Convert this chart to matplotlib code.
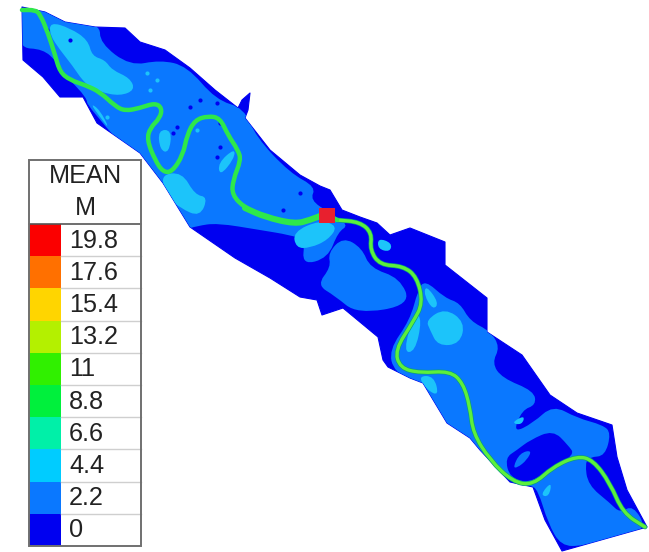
#!/usr/bin/env python3
"""Mean depth map of the river reach with its stepped colour legend."""

import matplotlib

matplotlib.use("Agg")
import matplotlib.pyplot as plt
from matplotlib.patches import PathPatch, Polygon, Rectangle
from matplotlib.path import Path

plt.rcParams["font.family"] = ["Liberation Sans", "DejaVu Sans"]

# legend classes, top to bottom
legend_labels = ["19.8", "17.6", "15.4", "13.2", "11", "8.8", "6.6", "4.4", "2.2", "0"]
legend_colors = ["#fb0000", "#ff7000", "#ffd500", "#b4f000", "#30f000",
                 "#00f03c", "#00f0a8", "#00ccff", "#0a78ff", "#0000f0"]

# map geometry, in image pixels
outline = [(22, 7), (45, 12), (65, 22), (95, 27), (125, 28), (140, 42), (165, 50),
           (190, 68), (215, 90), (238, 108), (242, 100), (250, 93), (248, 110),
           (245, 118), (270, 150), (300, 175), (320, 186), (330, 190), (342, 210),
           (360, 217), (377, 223), (390, 235), (410, 228), (445, 242), (445, 265),
           (487, 298), (487, 332), (522, 355), (550, 395), (577, 413), (612, 425),
           (617, 457), (627, 490), (647, 527), (562, 551), (545, 520), (533, 487),
           (510, 482), (480, 450), (470, 438), (447, 423), (423, 383), (410, 378),
           (388, 367), (383, 360), (378, 337), (343, 308), (322, 315), (317, 300),
           (300, 297), (270, 278), (235, 258), (190, 227), (163, 183), (140, 153),
           (97, 123), (83, 97), (60, 97), (43, 77), (23, 60)]

mid_upper = [(18, 8), (43, 9), (63, 19), (100, 24), (100, 43), (130, 66), (160, 60),
             (187, 66), (216, 100), (244, 108), (256, 137), (290, 173), (316, 187),
             (310, 200), (330, 213), (349, 225), (338, 232), (328, 258), (302, 265),
             (305, 240), (290, 235), (260, 230), (217, 223), (197, 226), (184, 230),
             (157, 184), (87, 106), (87, 98), (67, 77), (57, 62), (43, 49), (18, 48)]
mid_island = [(317, 285), (331, 267), (328, 253), (343, 237), (362, 248), (370, 268),
              (400, 278), (411, 305), (357, 314), (335, 296)]
mid_lower = [(418, 290), (425, 280), (445, 298), (460, 303), (470, 321), (490, 331),
             (500, 347), (492, 363), (502, 378), (534, 391), (536, 405), (522, 410),
             (513, 433), (533, 423), (553, 405), (577, 418), (603, 425), (611, 433),
             (605, 456), (590, 457), (585, 463), (588, 485), (610, 503), (620, 513),
             (633, 505), (647, 529), (620, 536), (583, 546), (561, 546), (548, 523),
             (538, 490), (530, 485), (510, 483), (478, 452), (468, 440), (444, 423),
             (424, 389), (394, 372), (389, 350), (410, 320)]
dark_blob = [(510, 478), (530, 483), (548, 470), (575, 455), (568, 445), (553, 430),
             (530, 440), (517, 450), (505, 458)]
mid_blob = [(513, 467), (520, 453), (532, 450), (527, 460), (517, 468)]

cyan_patches = [
    [(50, 22), (70, 28), (88, 40), (92, 56), (105, 60), (112, 70), (130, 78), (135, 90),
     (120, 96), (100, 92), (85, 84), (72, 65), (60, 50), (50, 35)],
    [(90, 103), (100, 110), (110, 130), (100, 117)],
    [(160, 175), (182, 172), (195, 195), (208, 197), (200, 217), (180, 208), (168, 197)],
    [(158, 130), (172, 130), (169, 153), (160, 150)],
    [(235, 148), (218, 163), (220, 176), (234, 159)],
    [(293, 232), (320, 220), (338, 226), (328, 240), (310, 248), (296, 248)],
    [(426, 285), (439, 303), (433, 310), (424, 295)],
    [(426, 320), (445, 308), (465, 322), (460, 344), (438, 346), (430, 330)],
    [(415, 311), (422, 320), (415, 352), (403, 352)],
    [(418, 376), (434, 376), (439, 396), (427, 390)],
    [(378, 238), (392, 243), (390, 252), (378, 249)],
    [(511, 423), (525, 415), (522, 425)],
    [(540, 495), (552, 481), (549, 497)],
]

dark_specks = [(190, 107), (200, 100), (217, 103), (177, 127), (173, 133), (220, 147),
               (217, 157), (283, 210), (300, 193), (220, 123), (70, 40), (47, 30)]
light_specks = [(197, 130), (157, 80), (147, 73), (107, 117), (150, 90)]

river_upper = [(22, 10), (35, 10), (40, 14), (48, 33), (55, 55), (60, 72), (70, 80),
               (85, 85), (100, 92), (115, 106), (125, 111), (140, 108), (155, 103),
               (162, 108), (160, 118), (150, 128), (147, 140), (155, 160), (163, 172),
               (172, 172), (183, 155), (187, 135), (195, 120), (208, 116), (220, 118),
               (228, 135), (238, 150), (241, 160), (233, 180), (232, 195), (245, 208),
               (265, 217), (295, 224), (310, 220), (325, 214), (337, 220)]
river_wide = [(245, 208), (265, 217), (295, 224), (310, 220), (325, 214)]
river_lower = [(337, 220), (360, 222), (372, 233), (370, 250), (380, 265), (403, 266),
               (417, 277), (423, 303), (413, 322), (395, 350), (400, 368), (420, 373),
               (450, 371), (463, 383), (470, 407), (473, 433), (490, 460), (513, 482),
               (533, 485), (553, 467), (577, 456), (593, 460), (610, 483), (623, 513),
               (645, 527)]

BLUE_DARK = "#0000f0"
BLUE_MID = "#0a78ff"
CYAN = "#1cc4fa"


def smooth_path(pts, closed=False):
    """Quadratic curve through the midpoints of the given vertices."""
    mids = [((a[0] + b[0]) / 2, (a[1] + b[1]) / 2) for a, b in zip(pts, pts[1:])]
    if closed:
        last = ((pts[-1][0] + pts[0][0]) / 2, (pts[-1][1] + pts[0][1]) / 2)
        verts = [last]
        codes = [Path.MOVETO]
        for ctrl, mid in zip(pts, mids + [last]):
            verts += [ctrl, mid]
            codes += [Path.CURVE3, Path.CURVE3]
    else:
        verts = [pts[0], mids[0]]
        codes = [Path.MOVETO, Path.LINETO]
        for ctrl, mid in zip(pts[1:-1], mids[1:]):
            verts += [ctrl, mid]
            codes += [Path.CURVE3, Path.CURVE3]
        verts.append(pts[-1])
        codes.append(Path.LINETO)
    return Path(verts, codes)


def add_area(ax, pts, color, clip=None):
    patch = PathPatch(smooth_path(pts, closed=True), fc=color, ec="none")
    ax.add_patch(patch)
    if clip is not None:
        patch.set_clip_path(clip)


def add_river(ax, pts, color, lw, zorder=3):
    ax.add_patch(PathPatch(smooth_path(pts), fc="none", ec=color, lw=lw,
                           capstyle="round", zorder=zorder))


fig = plt.figure(figsize=(6.49, 5.52), dpi=100)
ax = fig.add_axes([0, 0, 1, 1])
ax.set_xlim(0, 649)
ax.set_ylim(552, 0)
ax.axis("off")

land = Polygon(outline, closed=True, fc=BLUE_DARK, ec=BLUE_DARK, lw=0.8, joinstyle="round")
ax.add_patch(land)
for poly in [mid_upper, mid_island, mid_lower]:
    add_area(ax, poly, BLUE_MID, clip=land)
add_area(ax, dark_blob, BLUE_DARK)
add_area(ax, mid_blob, BLUE_MID)
for poly in cyan_patches:
    add_area(ax, poly, CYAN, clip=land)

ax.plot(*zip(*dark_specks), ls="", marker="o", ms=3, color=BLUE_DARK, mew=0)
ax.plot(*zip(*light_specks), ls="", marker="o", ms=3, color=CYAN, mew=0)

# river: thin darker edge under the green line downstream of the gauge
add_river(ax, river_lower, "#0a9a80", 3.4)
add_river(ax, river_lower, "#5cf03c", 2.4)
add_river(ax, river_upper, "#2ee84a", 3.2)
add_river(ax, river_wide, "#2ee84a", 4.4)

# gauge marker
ax.add_patch(Rectangle((319, 208), 16, 15, fc="#e8202e", ec="none", zorder=5))

# legend table
box_left, box_right = 29, 141
box_top, header_bottom, box_bottom = 160, 224, 546
swatch_right = 61
row_h = (box_bottom - header_bottom) / len(legend_labels)

ax.add_patch(Rectangle((box_left, box_top), box_right - box_left, box_bottom - box_top,
                       fc="white", ec="none", zorder=6))
for i, (label, color) in enumerate(zip(legend_labels, legend_colors)):
    y = header_bottom + i * row_h
    ax.add_patch(Rectangle((box_left, y), swatch_right - box_left, row_h,
                           fc=color, ec="none", zorder=7))
    if i > 0:
        ax.plot([swatch_right, box_right], [y, y], color="#cfcfcf", lw=1, zorder=7)
    ax.text(69, y + row_h / 2 + 0.5, label, fontsize=18.2, color="#222222",
            ha="left", va="center", zorder=8)

ax.plot([box_left, box_right], [header_bottom, header_bottom], color="#555555", lw=1.2, zorder=8)
ax.add_patch(Rectangle((box_left, box_top), box_right - box_left, box_bottom - box_top,
                       fc="none", ec="#707070", lw=1.4, zorder=9))
ax.text(85, 176, "MEAN", fontsize=18.2, color="#222222", ha="center", va="center", zorder=8)
ax.text(85, 208, "M", fontsize=18.2, color="#222222", ha="center", va="center", zorder=8)

fig.savefig("out.png", dpi=100)
